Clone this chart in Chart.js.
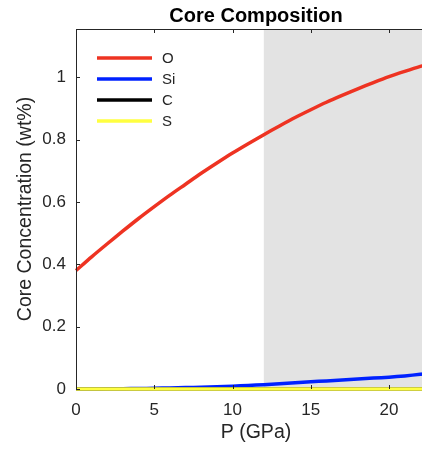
<!DOCTYPE html>
<html>
<head>
<meta charset="utf-8">
<title>Core Composition</title>
<script src="https://cdn.jsdelivr.net/npm/chart.js@4/dist/chart.umd.min.js"></script>
<style>
  html, body { margin: 0; padding: 0; background: #fff; overflow: hidden; }
  #wrap { width: 440px; height: 449px; }
</style>
</head>
<body>
<div id="wrap"><canvas id="chart" width="440" height="449"></canvas></div>
<script>
// pressure grid (GPa) and core light-element content (wt%)
const pressure = [0, 1, 2, 3, 4, 5, 6, 7, 8, 9, 10, 11, 12, 13, 14, 15, 16, 17, 18, 19, 20, 21, 22, 23];
const oxygen   = [0.380, 0.424, 0.466, 0.507, 0.547, 0.585, 0.622, 0.657, 0.692, 0.725, 0.757, 0.787,
                  0.816, 0.844, 0.871, 0.896, 0.920, 0.942, 0.963, 0.983, 1.002, 1.019, 1.035, 1.049];
const silicon  = [0, 0.0002, 0.0005, 0.001, 0.0016, 0.0024, 0.0033, 0.0045, 0.0058, 0.0072, 0.009, 0.0115,
                  0.014, 0.017, 0.020, 0.023, 0.026, 0.029, 0.032, 0.035, 0.038, 0.042, 0.047, 0.051];
const carbon   = [0, 0, 0, 0, 0, 0, 0, 0, 0, 0, 0, 0, 0, 0, 0, 0, 0, 0, 0, 0, 0, 0, 0, 0];
const sulfur   = [0, 0, 0, 0, 0, 0, 0, 0, 0, 0, 0, 0, 0, 0, 0, 0, 0, 0, 0, 0, 0, 0, 0, 0];

const xTicks = [0, 5, 10, 15, 20];
const yTicks = [0, 0.2, 0.4, 0.6, 0.8, 1];
const shadeFrom = 12;   // GPa, start of shaded pressure range

const axisColor = '#262626';
const font = 'Liberation Sans, Arial, Helvetica, sans-serif';

function pts(ys) {
  return pressure.map((p, i) => ({x: p, y: ys[i]}));
}

// grey band behind the curves
const shade = {
  id: 'shade',
  beforeDatasetsDraw(chart) {
    const {ctx, chartArea, scales} = chart;
    const x0 = scales.x.getPixelForValue(shadeFrom);
    ctx.save();
    ctx.fillStyle = '#e3e3e3';
    ctx.fillRect(x0, chartArea.top, chartArea.right - x0, chartArea.bottom - chartArea.top);
    ctx.restore();
  }
};

// box frame, inward ticks, title and legend
const frame = {
  id: 'frame',
  afterDraw(chart) {
    const {ctx, chartArea, scales} = chart;
    const {left, right, top, bottom} = chartArea;
    ctx.save();
    ctx.strokeStyle = axisColor;
    ctx.lineWidth = 1;
    ctx.beginPath();
    ctx.moveTo(left, top + 0.5);
    ctx.lineTo(right, top + 0.5);
    ctx.moveTo(left + 0.5, top);
    ctx.lineTo(left + 0.5, bottom);
    xTicks.forEach(v => {
      const x = Math.round(scales.x.getPixelForValue(v)) + 0.5;
      ctx.moveTo(x, top);
      ctx.lineTo(x, top + 4);
      ctx.moveTo(x, bottom);
      ctx.lineTo(x, bottom - 4);
    });
    yTicks.forEach(v => {
      const y = Math.round(scales.y.getPixelForValue(v)) + 0.5;
      ctx.moveTo(left, y);
      ctx.lineTo(left + 4, y);
    });
    ctx.stroke();

    ctx.fillStyle = '#000';
    ctx.font = 'bold 20px ' + font;
    ctx.textAlign = 'center';
    ctx.textBaseline = 'alphabetic';
    ctx.fillText('Core Composition', (left + right) / 2, 22);

    // legend rows, top to bottom in dataset order
    ctx.font = '15px ' + font;
    ctx.textAlign = 'left';
    ctx.textBaseline = 'middle';
    chart.data.datasets.forEach((ds, i) => {
      const y = top + 29 + i * 21;
      ctx.strokeStyle = ds.borderColor;
      ctx.lineWidth = ds.borderWidth;
      ctx.beginPath();
      ctx.moveTo(left + 21, y);
      ctx.lineTo(left + 76, y);
      ctx.stroke();
      ctx.fillStyle = axisColor;
      ctx.fillText(ds.label, left + 86, y + 1);
    });
    ctx.restore();
  }
};

const ctx = document.getElementById('chart').getContext('2d');
const chart = new Chart(ctx, {
  type: 'line',
  data: {
    // higher order is painted first, so S ends up on top
    datasets: [
      {label: 'O',  data: pts(oxygen),  borderColor: '#ee3322', borderWidth: 3.5, order: 4},
      {label: 'Si', data: pts(silicon), borderColor: '#0022ff', borderWidth: 3.5, order: 3},
      {label: 'C',  data: pts(carbon),  borderColor: '#000000', borderWidth: 3.5, order: 2},
      {label: 'S',  data: pts(sulfur),  borderColor: '#ffff40', borderWidth: 3.5, order: 1}
    ]
  },
  options: {
    responsive: false,
    animation: false,
    devicePixelRatio: 1,
    layout: {padding: {top: 29, left: 0, right: 4, bottom: 0}},
    elements: {
      point: {radius: 0},
      line: {tension: 0.3, fill: false, borderCapStyle: 'butt'}
    },
    datasets: {line: {clip: 5}},
    plugins: {
      legend: {display: false},
      title: {display: false},
      tooltip: {enabled: false}
    },
    scales: {
      x: {
        type: 'linear',
        min: 0,
        max: 23,
        afterBuildTicks: s => { s.ticks = xTicks.map(v => ({value: v})); },
        afterFit: s => { s.height = 60; },
        grid: {drawOnChartArea: false, drawTicks: false},
        border: {display: true, color: axisColor, width: 1},
        ticks: {
          padding: 11,
          color: axisColor,
          font: {family: font, size: 17},
          callback: v => String(v)
        },
        title: {
          display: true,
          text: 'P (GPa)',
          color: axisColor,
          font: {family: font, size: 19.5},
          padding: {top: 0, bottom: 5}
        }
      },
      y: {
        min: 0,
        max: 1.155,
        afterBuildTicks: s => { s.ticks = yTicks.map(v => ({value: v})); },
        afterFit: s => { s.width = 76; },
        grid: {drawOnChartArea: false, drawTicks: false},
        border: {display: true, color: axisColor, width: 1},
        ticks: {
          padding: 10,
          color: axisColor,
          font: {family: font, size: 17},
          callback: v => String(v)
        },
        title: {
          display: true,
          text: 'Core Concentration (wt%)',
          color: axisColor,
          font: {family: font, size: 19.5},
          padding: {top: 14, bottom: 0}
        }
      }
    }
  },
  plugins: [shade, frame]
});
</script>
</body>
</html>
